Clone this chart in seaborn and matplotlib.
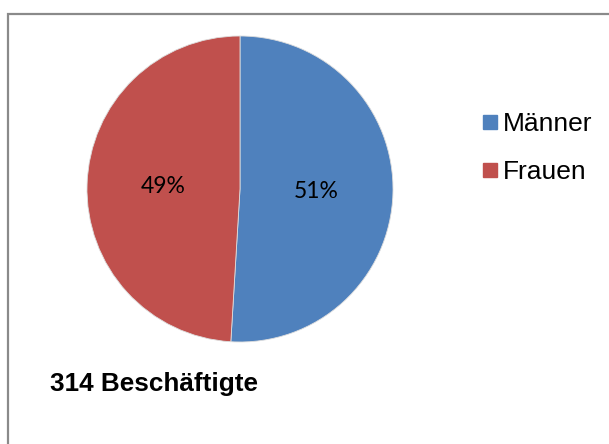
import matplotlib
matplotlib.use("Agg")
import matplotlib.pyplot as plt
import seaborn as sns
from matplotlib.lines import Line2D
from matplotlib.patches import Rectangle

# Daten
labels = ["Männer", "Frauen"]
counts = [160, 154]
colors = ["#4F81BD", "#C0504D"]
caption = "314 Beschäftigte"

sns.set_style("white")
plt.rcParams["font.family"] = ["Liberation Sans", "DejaVu Sans"]
plt.rcParams["text.color"] = "black"

fig = plt.figure(figsize=(6.09, 4.44), dpi=100)

# Kreisdiagramm
ax = fig.add_axes([87 / 609, 102 / 444, 306 / 609, 306 / 444])
wedges, texts, autotexts = ax.pie(
    counts,
    colors=colors,
    startangle=90,
    counterclock=False,
    autopct="%1.0f%%",
    pctdistance=0.5,
    wedgeprops={"linewidth": 0.6, "edgecolor": "#dddddd"},
    textprops={"fontsize": 16.5, "family": ["Lato", "DejaVu Sans"], "color": "black"},
)
ax.set_xlim(-1, 1)
ax.set_ylim(-1, 1)
ax.set_aspect("equal")

# Legende
handles = [
    Line2D([], [], marker="s", linestyle="none", markersize=10,
           markerfacecolor=c, markeredgecolor=c)
    for c in colors
]
fig.legend(
    handles, labels,
    loc="center left",
    bbox_to_anchor=(483 / 609, 1 - 148 / 444),
    frameon=False,
    fontsize=19,
    labelcolor="black",
    handlelength=0.55,
    handletextpad=0.2,
    labelspacing=0.9,
    borderpad=0,
    borderaxespad=0,
)

# Beschriftung unten
fig.text(50 / 609, 1 - 384 / 444, caption, fontsize=18.8, fontweight="bold",
         color="black", va="center", ha="left")

# Rahmen
fig.add_artist(Rectangle((8 / 609, -0.05), 1.0, (444 - 14) / 444 + 0.05,
                         transform=fig.transFigure, fill=False,
                         edgecolor="#8a8a8a", linewidth=1.6))

fig.savefig("out.png", dpi=100)
